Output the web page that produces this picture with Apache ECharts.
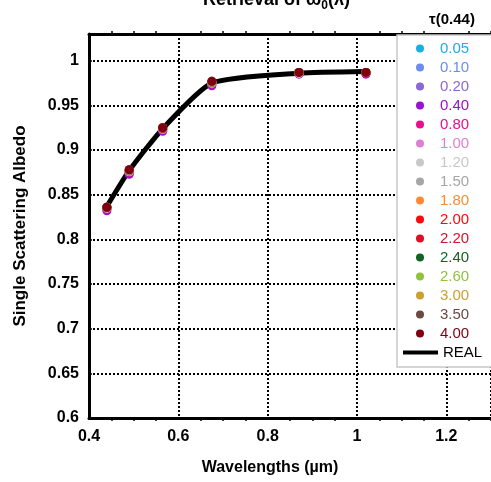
<!DOCTYPE html>
<html><head><meta charset="utf-8">
<script src="https://cdn.jsdelivr.net/npm/echarts@6/dist/echarts.min.js"></script>
<style>html,body{margin:0;padding:0;background:#fff}#c{width:491px;height:482px}</style>
</head><body><div id="c"></div>
<script>
var wavelengths = [0.44, 0.49, 0.565, 0.675, 0.87, 1.02];
var tauNames = ['0.05','0.10','0.20','0.40','0.80','1.00','1.20','1.50','1.80','2.00','2.20','2.40','2.60','3.00','3.50','4.00'];
var tauColors = ['#19aee6','#6c8cf0','#8a68d6','#9b10d2','#e8108c','#dd80d2','#c8c8c8','#a6a6a6','#ff8a32','#ff0808','#dc1024','#116422','#8fc23e','#c9a031','#6b4a42','#800012'];
var tau005 = [0.835, 0.875, 0.923, 0.974, 0.986, 0.987];
var tau010 = [0.835, 0.875, 0.923, 0.974, 0.986, 0.987];
var tau020 = [0.834, 0.874, 0.922, 0.973, 0.986, 0.986];
var tau040 = [0.832, 0.873, 0.921, 0.972, 0.985, 0.985];
var tau080 = [0.834, 0.875, 0.923, 0.974, 0.986, 0.986];
var tau100 = [0.835, 0.876, 0.923, 0.975, 0.986, 0.987];
var tau120 = [0.835, 0.876, 0.924, 0.975, 0.986, 0.987];
var tau150 = [0.835, 0.876, 0.924, 0.975, 0.987, 0.987];
var tau180 = [0.836, 0.877, 0.924, 0.976, 0.987, 0.987];
var tau200 = [0.836, 0.877, 0.924, 0.976, 0.987, 0.987];
var tau220 = [0.836, 0.877, 0.925, 0.976, 0.987, 0.987];
var tau240 = [0.836, 0.877, 0.925, 0.976, 0.987, 0.987];
var tau260 = [0.836, 0.877, 0.925, 0.976, 0.987, 0.987];
var tau300 = [0.836, 0.878, 0.925, 0.977, 0.987, 0.987];
var tau350 = [0.836, 0.878, 0.925, 0.977, 0.987, 0.987];
var tau400 = [0.836, 0.878, 0.925, 0.977, 0.987, 0.987];
var realValues = [0.837, 0.877, 0.924, 0.975, 0.986, 0.988];
var tauValues = [tau005,tau010,tau020,tau040,tau080,tau100,tau120,tau150,tau180,tau200,tau220,tau240,tau260,tau300,tau350,tau400];

function pairs(xs, ys){ return xs.map(function(x,i){ return [x, ys[i]]; }); }
function fmt(step){ return function(v){ var r = v/step; return Math.abs(r-Math.round(r))<1e-6 ? String(+v.toFixed(2)) : ''; }; }

var FONT = 'Liberation Sans, Arial, sans-serif';
var series = [{
  name: 'REAL', type: 'line', data: pairs(wavelengths, realValues), smooth: 0.2,
  showSymbol: false, lineStyle: {color: '#000', width: 5}, itemStyle: {color: '#000'}, z: 2
}];
tauNames.forEach(function(n, i){
  series.push({name: n, type: 'scatter', data: pairs(wavelengths, tauValues[i]), symbolSize: 9,
    itemStyle: {color: tauColors[i], opacity: 1}, z: 3});
});

var chart = echarts.init(document.getElementById('c'), null, {renderer: 'canvas'});
chart.setOption({
  animation: false,
  backgroundColor: '#fff',
  title: [
    {text: 'Retrieval of ω{s|0}(λ)', left: 198, top: -17,
     textStyle: {fontFamily: FONT, fontSize: 18, fontWeight: 'bold', color: '#000',
       rich: {s: {fontFamily: FONT, fontSize: 12, fontWeight: 'bold', verticalAlign: 'bottom', padding: [12,0,0,0]}}}},
    {text: 'τ(0.44)', left: 424, top: 7, textStyle: {fontFamily: FONT, fontSize: 15, fontWeight: 'bold', color: '#000'}}
  ],
  grid: {left: 89, top: 34, right: 0, bottom: 64, containLabel: false},
  xAxis: [{
    type: 'value', min: 0.4, max: 1.3, interval: 0.2, position: 'bottom',
    name: 'Wavelengths (µm)', nameLocation: 'middle', nameGap: 42,
    nameTextStyle: {fontFamily: FONT, fontSize: 16, fontWeight: 'bold', color: '#000', padding: [0, 0, 0, -40]},
    axisLine: {show: true, onZero: false, lineStyle: {color: '#000', width: 3}},
    axisTick: {show: false},
    minorTick: {show: true, splitNumber: 4, length: 3, lineStyle: {color: '#000', width: 1.5}},
    axisLabel: {fontFamily: FONT, fontSize: 16, fontWeight: 'bold', color: '#000', margin: 11, formatter: fmt(0.2), showMaxLabel: false},
    splitLine: {show: true, lineStyle: {color: '#000', width: 2, type: [2, 2]}}
  }, {
    type: 'value', min: 0.4, max: 1.3, interval: 0.2, position: 'top',
    axisLine: {show: true, onZero: false, lineStyle: {color: '#000', width: 3}},
    axisTick: {show: false}, axisLabel: {show: false}, splitLine: {show: false},
    minorTick: {show: true, splitNumber: 4, length: 3, lineStyle: {color: '#000', width: 1.5}}
  }],
  yAxis: {
    type: 'value', min: 0.6, max: 1.03, interval: 0.05,
    name: 'Single Scattering Albedo', nameLocation: 'middle', nameGap: 60, nameRotate: 90,
    nameTextStyle: {fontFamily: FONT, fontSize: 17, fontWeight: 'bold', color: '#000'},
    axisLine: {show: true, lineStyle: {color: '#000', width: 3}},
    axisTick: {show: true, inside: true, length: 3, lineStyle: {color: '#000', width: 1.5}},
    axisLabel: {fontFamily: FONT, fontSize: 16, fontWeight: 'bold', color: '#000', margin: 10, formatter: fmt(0.05), showMaxLabel: false},
    splitLine: {show: true, lineStyle: {color: '#000', width: 2, type: [2, 2]}}
  },
  graphic: [{type: 'rect', z: 10, shape: {x: 397, y: 35, width: 100, height: 332},
    style: {fill: '#fff', stroke: '#c8c8c8', lineWidth: 1.5}}],
  legend: [{
    z: 20, orient: 'vertical', left: 416, top: 41, padding: 0, itemGap: 4,
    itemWidth: 30, itemHeight: 8, icon: 'circle', selectedMode: false,
    textStyle: {fontFamily: FONT, fontSize: 15},
    data: tauNames.map(function(n, i){ return {name: n, textStyle: {color: tauColors[i]}}; })
  }, {
    z: 20, orient: 'vertical', left: 403, top: 345, padding: 0,
    itemWidth: 35, itemHeight: 4, icon: 'rect', selectedMode: false,
    textStyle: {fontFamily: FONT, fontSize: 15, color: '#000'},
    data: ['REAL']
  }],
  series: series
});
</script></body></html>
